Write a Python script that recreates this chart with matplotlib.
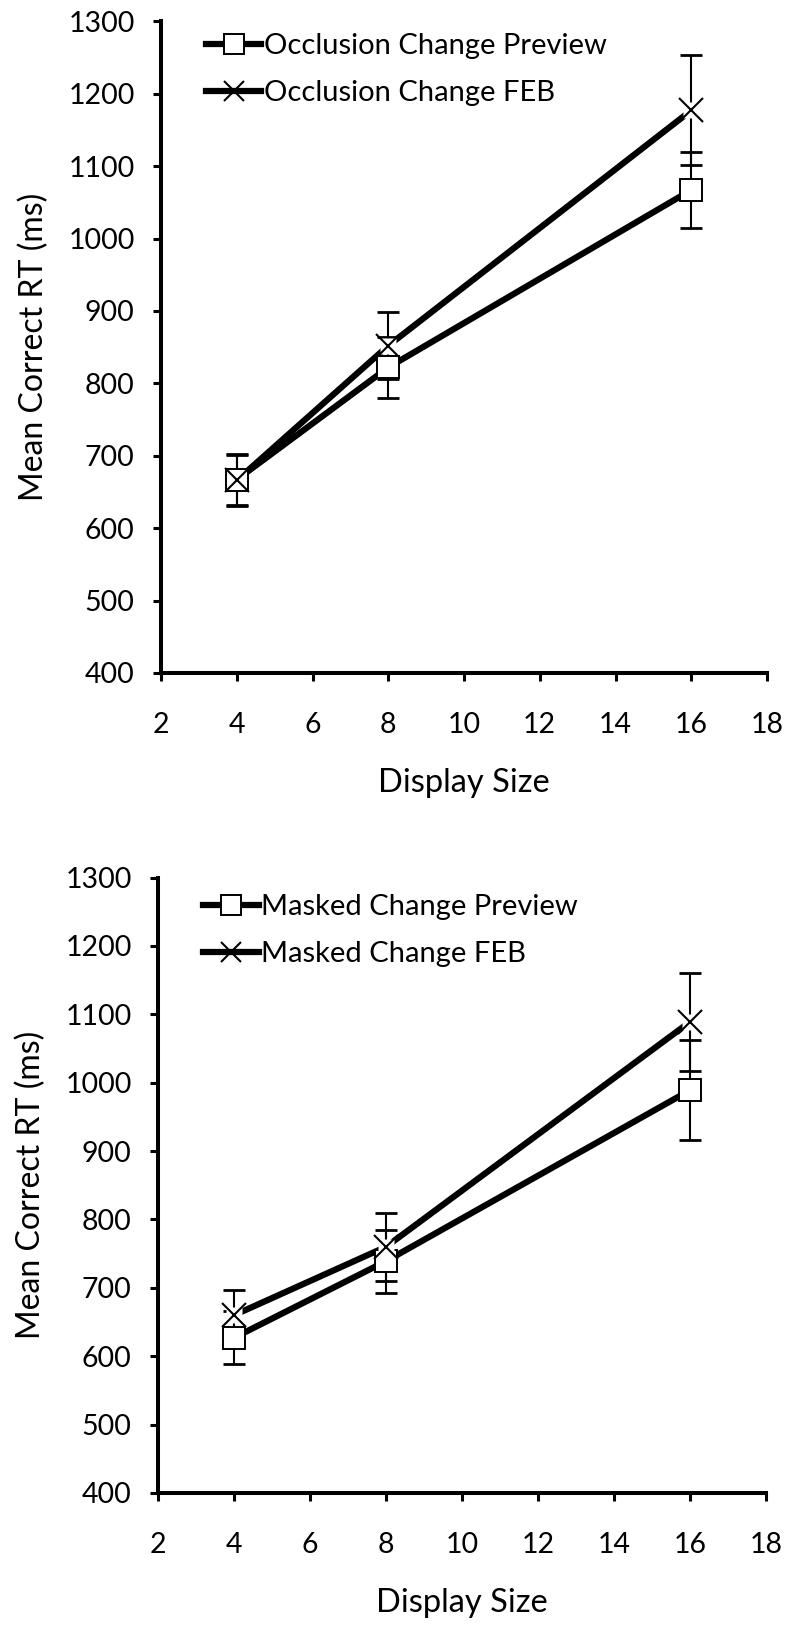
import matplotlib
matplotlib.use("Agg")
import matplotlib.pyplot as plt
from matplotlib.lines import Line2D

plt.rcParams['font.family'] = ['Lato', 'DejaVu Sans']

display_size = [4, 8, 16]

occ_preview = [667, 822, 1067]
occ_preview_err = [35, 42, 53]
occ_feb = [666, 852, 1177]
occ_feb_err = [35, 46, 76]

mask_preview = [627, 739, 989]
mask_preview_err = [39, 46, 73]
mask_feb = [660, 760, 1089]
mask_feb_err = [37, 50, 72]

labels_top = ["Occlusion Change Preview", "Occlusion Change FEB"]
labels_bot = ["Masked Change Preview", "Masked Change FEB"]

xticks = [2, 4, 6, 8, 10, 12, 14, 16, 18]
yticks = [400, 500, 600, 700, 800, 900, 1000, 1100, 1200, 1300]

fig = plt.figure(figsize=(7.87, 16.29), dpi=100)
ax1 = fig.add_axes([0.2046, 0.5869, 0.770, 0.400])
ax2 = fig.add_axes([0.2008, 0.0835, 0.7726, 0.3778])

LW = 4.5
FS = 20.5


def draw(ax, prev, prev_err, feb, feb_err, labels, leg_y):
    ax.errorbar(display_size, prev, yerr=prev_err, fmt='none', ecolor='black',
                elinewidth=1.5, capsize=8, capthick=2, zorder=2)
    ax.errorbar(display_size, feb, yerr=feb_err, fmt='none', ecolor='black',
                elinewidth=1.5, capsize=8, capthick=2, zorder=2)
    ax.plot(display_size, prev, color='black', lw=LW, zorder=3)
    ax.plot(display_size, prev, ls='none', marker='s', ms=16.5, mfc='white',
            mec='black', mew=1.4, zorder=4)
    ax.plot(display_size, feb, color='black', lw=LW, zorder=3)
    ax.plot(display_size, feb, ls='none', marker='s', ms=11, mfc='white',
            mec='none', zorder=5)
    ax.plot(display_size, feb, ls='none', marker='x', ms=17, mec='black',
            mew=1.5, zorder=6)

    ax.set_xlim(2, 18)
    ax.set_ylim(400, 1300)
    ax.set_xticks(xticks)
    ax.set_yticks(yticks)
    for s in ['top', 'right']:
        ax.spines[s].set_visible(False)
    for s in ['left', 'bottom']:
        ax.spines[s].set_linewidth(2.9)
    ax.tick_params(axis='both', direction='out', length=6, width=2.2,
                   labelsize=FS)
    ax.tick_params(axis='x', pad=22)
    ax.tick_params(axis='y', pad=13)
    ax.set_xlabel("Display Size", fontsize=23.5, labelpad=22)
    ax.set_ylabel("Mean Correct RT (ms)", fontsize=23, labelpad=14)

    h1 = Line2D([], [], color='black', lw=LW, marker='s', ms=14, mfc='white',
                mec='black', mew=1.4)
    h2 = Line2D([], [], color='black', lw=LW, marker='x', ms=14, mec='black',
                mew=1.5)
    leg = ax.legend([h1, h2], labels, loc='upper left',
                    bbox_to_anchor=(0.055, leg_y), frameon=False,
                    fontsize=21, handlelength=1.9, handletextpad=0.1,
                    labelspacing=0.72, borderaxespad=0)
    return leg


draw(ax1, occ_preview, occ_preview_err, occ_feb, occ_feb_err, labels_top, 1.0)
draw(ax2, mask_preview, mask_preview_err, mask_feb, mask_feb_err, labels_bot, 0.992)

fig.savefig("out.png", dpi=100)
